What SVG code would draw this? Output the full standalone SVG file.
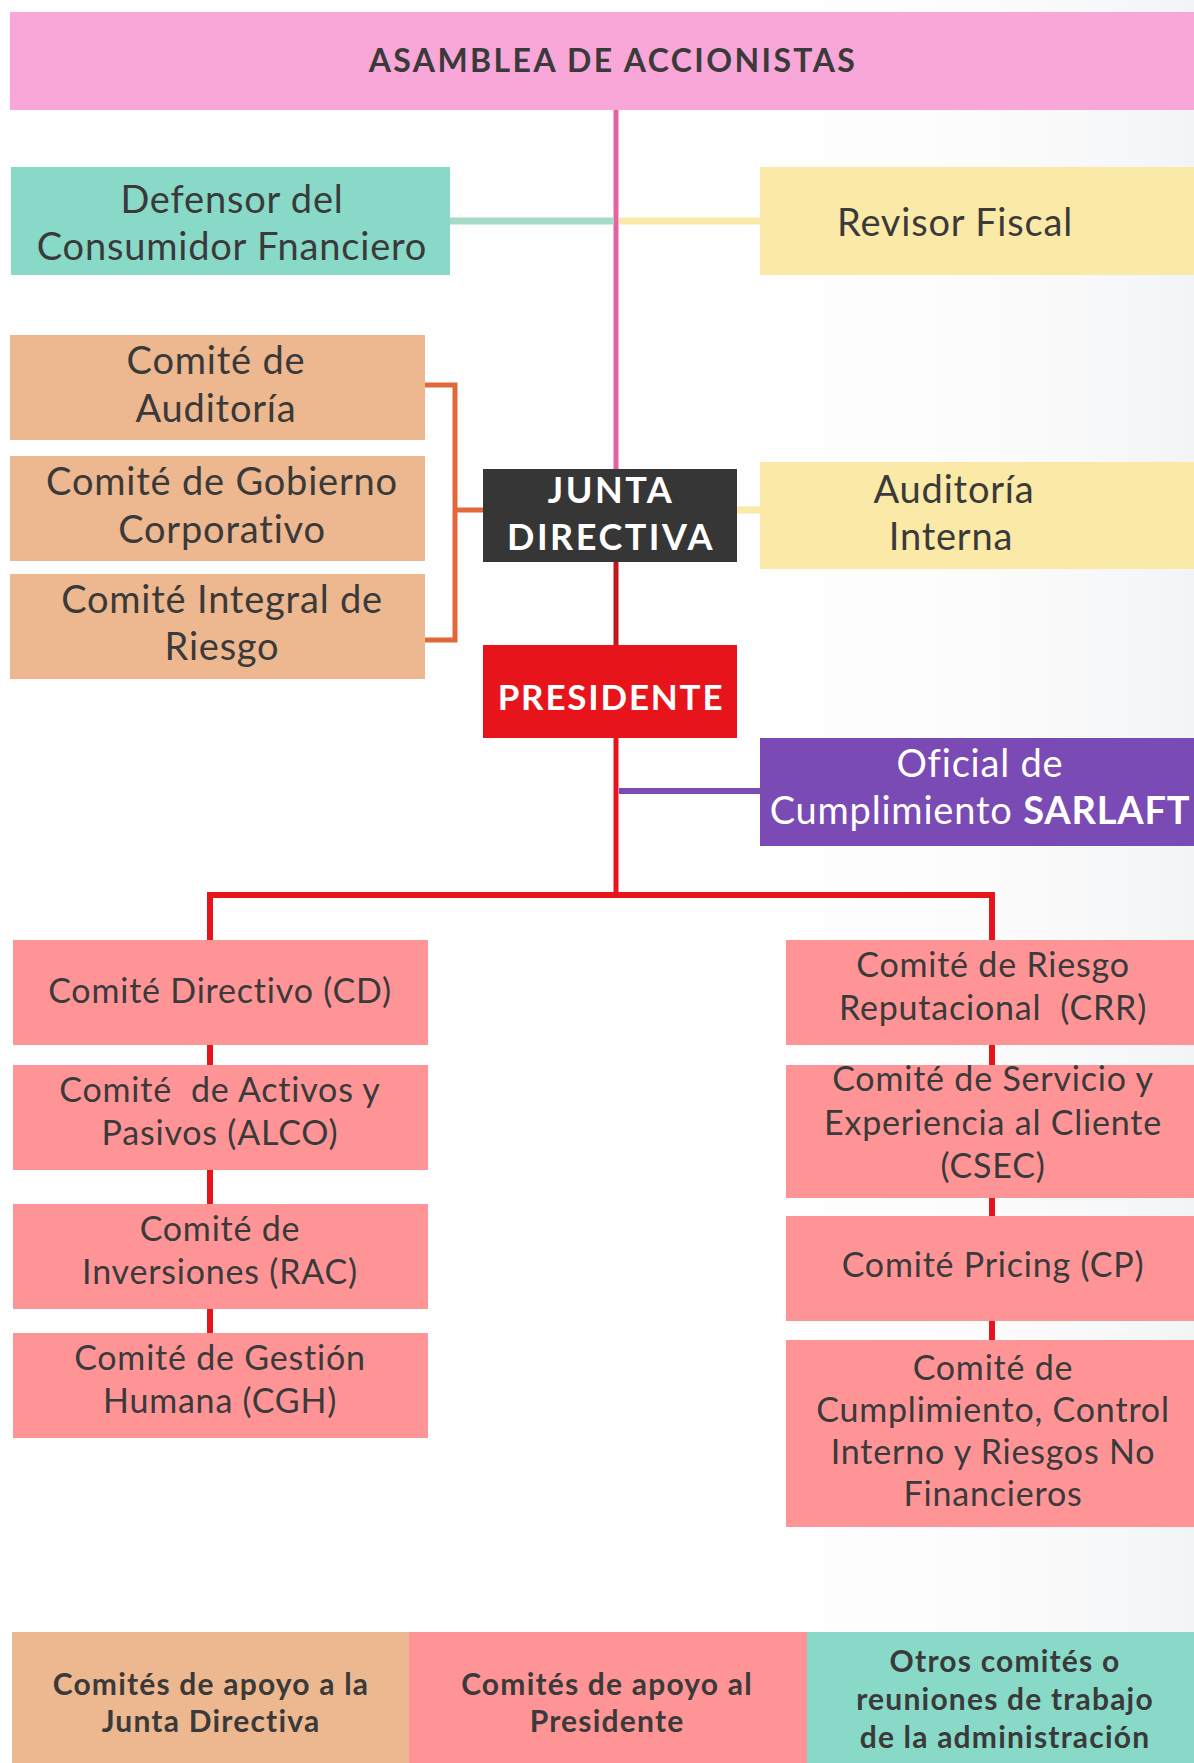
<svg xmlns="http://www.w3.org/2000/svg" width="1194" height="1763" viewBox="0 0 1194 1763">
<defs>
<linearGradient id="bg" x1="0" y1="0" x2="1" y2="0">
<stop offset="0" stop-color="#ffffff" stop-opacity="0"/>
<stop offset="1" stop-color="#f3f4f6"/>
</linearGradient>
</defs>
<style>
.t{font-family:Lato,"Liberation Sans",sans-serif;fill:#3a3a3a;text-anchor:middle}
.r36{font-size:38px;letter-spacing:0.8px}
.r33{font-size:34px;letter-spacing:0.8px}
.b{font-weight:bold}
.lg{font-weight:bold;font-size:30px;letter-spacing:1.2px}
.w{fill:#ffffff}
.c{fill:none;stroke-linecap:butt;stroke-linejoin:miter}
</style>
<rect x="0" y="0" width="1194" height="1763" fill="#fefefe"/>
<rect x="760" y="0" width="434" height="1763" fill="url(#bg)"/>

<g id="connectors" class="c">
<line x1="616" y1="108" x2="616" y2="469" stroke="#e8609f" stroke-width="5"/>
<line x1="450" y1="221" x2="614" y2="221" stroke="#a5dbc6" stroke-width="7"/>
<line x1="619" y1="221" x2="760" y2="221" stroke="#fbe9a7" stroke-width="7"/>
<path d="M425,385 H455 V640 H425 M455,510 H483" stroke="#e0683a" stroke-width="5"/>
<line x1="737" y1="510" x2="760" y2="510" stroke="#fbe9a7" stroke-width="7"/>
<line x1="616" y1="562" x2="616" y2="645" stroke="#c0161e" stroke-width="5"/>
<line x1="616" y1="738" x2="616" y2="895" stroke="#e8141c" stroke-width="5"/>
<line x1="619" y1="791" x2="760" y2="791" stroke="#7a4bb5" stroke-width="6"/>
<path d="M210,940 V895 H992 V940" stroke="#e8141c" stroke-width="6"/>
<path d="M210,1045 V1065 M210,1170 V1204 M210,1309 V1333" stroke="#e8141c" stroke-width="6"/>
<path d="M992,1045 V1065 M992,1198 V1216 M992,1321 V1340" stroke="#e8141c" stroke-width="6"/>
</g>

<g id="asamblea">
<rect x="10" y="12" width="1184" height="98" fill="#f9a6d8"/>
<text class="t b" x="613" y="72" font-size="32" letter-spacing="2.4">ASAMBLEA DE ACCIONISTAS</text>
</g>

<g id="defensor">
<rect x="11" y="167" width="439" height="108" fill="#88d9c7"/>
<text class="t r36" x="232" y="213">Defensor del</text>
<text class="t r36" x="232" y="260">Consumidor Fnanciero</text>
</g>

<g id="revisor">
<rect x="760" y="167" width="434" height="108" fill="#fbe9a7"/>
<text class="t r36" x="955" y="236">Revisor Fiscal</text>
</g>

<g id="comite-auditoria">
<rect x="10" y="335" width="415" height="105" fill="#edb78f"/>
<text class="t r36" x="216" y="374">Comité de</text>
<text class="t r36" x="216" y="422">Auditoría</text>
</g>

<g id="comite-gobierno">
<rect x="10" y="456" width="415" height="105" fill="#edb78f"/>
<text class="t r36" x="222" y="495">Comité de Gobierno</text>
<text class="t r36" x="222" y="543">Corporativo</text>
</g>

<g id="comite-integral">
<rect x="10" y="574" width="415" height="105" fill="#edb78f"/>
<text class="t r36" x="222" y="613">Comité Integral de</text>
<text class="t r36" x="222" y="660">Riesgo</text>
</g>

<g id="junta">
<rect x="483" y="469" width="254" height="93" fill="#363636"/>
<text class="t b w" x="611" y="503" font-size="36" letter-spacing="2.5">JUNTA</text>
<text class="t b w" x="611" y="550" font-size="36" letter-spacing="2.5">DIRECTIVA</text>
</g>

<g id="auditoria-interna">
<rect x="760" y="462" width="434" height="107" fill="#fbe9a7"/>
<text class="t r36" x="954" y="503">Auditoría</text>
<text class="t r36" x="951" y="550">Interna</text>
</g>

<g id="presidente">
<rect x="483" y="645" width="254" height="93" fill="#e8141c"/>
<text class="t b w" x="611" y="710" font-size="35" letter-spacing="1.8">PRESIDENTE</text>
</g>

<g id="oficial">
<rect x="760" y="738" width="434" height="108" fill="#7a4bb5"/>
<text class="t r36 w" x="980" y="777">Oficial de</text>
<text class="t r36 w" x="980" y="824">Cumplimiento <tspan font-weight="bold">SARLAFT</tspan></text>
</g>

<g id="cd">
<rect x="13" y="940" width="415" height="105" fill="#ff9497"/>
<text class="t r33" x="220" y="1003">Comité Directivo (CD)</text>
</g>

<g id="alco">
<rect x="13" y="1065" width="415" height="105" fill="#ff9497"/>
<text class="t r33" x="220" y="1102" xml:space="preserve">Comité  de Activos y</text>
<text class="t r33" x="220" y="1145">Pasivos (ALCO)</text>
</g>

<g id="rac">
<rect x="13" y="1204" width="415" height="105" fill="#ff9497"/>
<text class="t r33" x="220" y="1241">Comité de</text>
<text class="t r33" x="220" y="1284">Inversiones (RAC)</text>
</g>

<g id="cgh">
<rect x="13" y="1333" width="415" height="105" fill="#ff9497"/>
<text class="t r33" x="220" y="1370">Comité de Gestión</text>
<text class="t r33" x="220" y="1413">Humana (CGH)</text>
</g>

<g id="crr">
<rect x="786" y="940" width="408" height="105" fill="#ff9497"/>
<text class="t r33" x="993" y="977">Comité de Riesgo</text>
<text class="t r33" x="993" y="1020" xml:space="preserve">Reputacional  (CRR)</text>
</g>

<g id="csec">
<rect x="786" y="1065" width="408" height="133" fill="#ff9497"/>
<text class="t r33" x="993" y="1091">Comité de Servicio y</text>
<text class="t r33" x="993" y="1135">Experiencia al Cliente</text>
<text class="t r33" x="993" y="1178">(CSEC)</text>
</g>

<g id="cp">
<rect x="786" y="1216" width="408" height="105" fill="#ff9497"/>
<text class="t r33" x="993" y="1277">Comité Pricing (CP)</text>
</g>

<g id="cumplimiento">
<rect x="786" y="1340" width="408" height="187" fill="#ff9497"/>
<text class="t r33" x="993" y="1380">Comité de</text>
<text class="t r33" x="993" y="1422">Cumplimiento, Control</text>
<text class="t r33" x="993" y="1464">Interno y Riesgos No</text>
<text class="t r33" x="993" y="1506">Financieros</text>
</g>

<g id="leyenda-junta">
<rect x="12" y="1632" width="397" height="131" fill="#edb78f"/>
<text class="t lg" x="211" y="1695">Comités de apoyo a la</text>
<text class="t lg" x="211" y="1732">Junta Directiva</text>
</g>

<g id="leyenda-presidente">
<rect x="409" y="1632" width="398" height="131" fill="#ff9497"/>
<text class="t lg" x="607" y="1695">Comités de apoyo al</text>
<text class="t lg" x="607" y="1732">Presidente</text>
</g>

<g id="leyenda-otros">
<rect x="807" y="1632" width="387" height="131" fill="#88d9c7"/>
<text class="t lg" x="1005" y="1672">Otros comités o</text>
<text class="t lg" x="1005" y="1710">reuniones de trabajo</text>
<text class="t lg" x="1005" y="1748">de la administración</text>
</g>
</svg>
